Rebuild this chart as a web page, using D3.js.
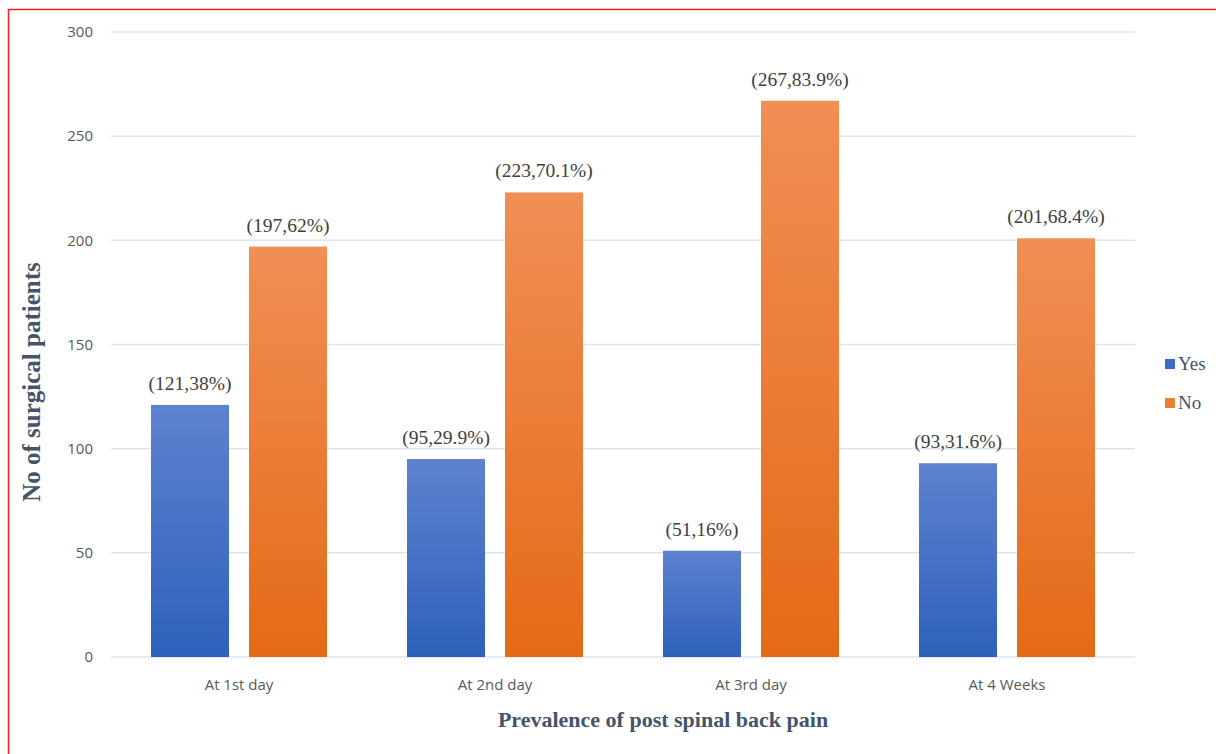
<!DOCTYPE html>
<html>
<head>
<meta charset="utf-8">
<script src="https://cdn.jsdelivr.net/npm/d3@7/dist/d3.min.js"></script>
<style>
    body { margin: 0; background: #fff; }
    svg { display: block; }
</style>
</head>
<body>
<svg id="chart" width="1216" height="754"></svg>
<script>
const categories = ["At 1st day", "At 2nd day", "At 3rd day", "At 4 Weeks"];
const series = ["Yes", "No"];
const yesValues = [121, 95, 51, 93];
const noValues = [197, 223, 267, 201];
const yesLabels = ["(121,38%)", "(95,29.9%)", "(51,16%)", "(93,31.6%)"];
const noLabels = ["(197,62%)", "(223,70.1%)", "(267,83.9%)", "(201,68.4%)"];
const yTicks = [0, 50, 100, 150, 200, 250, 300];

const margin = { left: 111, right: 1135, top: 32, bottom: 657 };
const svg = d3.select("#chart");

// gradients like the office fill
const defs = svg.append("defs");
const grads = [
    { id: "gYes", top: "#5d82cf", bottom: "#2e61bb" },
    { id: "gNo", top: "#f18f55", bottom: "#e46a17" }
];
grads.forEach(g => {
    const lg = defs.append("linearGradient")
        .attr("id", g.id)
        .attr("x1", 0).attr("y1", 0).attr("x2", 0).attr("y2", 1);
    lg.append("stop").attr("offset", "0%").attr("stop-color", g.top);
    lg.append("stop").attr("offset", "100%").attr("stop-color", g.bottom);
});

const x = d3.scaleBand()
    .domain(categories)
    .range([margin.left, margin.right])
    .paddingInner(0.3125)
    .paddingOuter(0.15625);

const x1 = d3.scaleBand()
    .domain(series)
    .range([0, x.bandwidth()])
    .paddingInner(0.2041);

const y = d3.scaleLinear()
    .domain([0, 300])
    .range([margin.bottom, margin.top]);

// grid
svg.append("g")
    .selectAll("line")
    .data(yTicks)
    .join("line")
    .attr("x1", margin.left)
    .attr("x2", margin.right)
    .attr("y1", d => y(d))
    .attr("y2", d => y(d))
    .attr("stroke", "#dfe3eb")
    .attr("stroke-width", 1.5);

// y axis tick labels
const yAxis = d3.axisLeft(y).tickValues(yTicks).tickSize(0).tickPadding(18);
const yg = svg.append("g")
    .attr("transform", `translate(${margin.left},0)`)
    .call(yAxis);
yg.select(".domain").remove();
yg.selectAll("text")
    .attr("font-family", "'Open Sans', 'Liberation Sans', sans-serif")
    .attr("font-size", 15)
    .attr("fill", "#595959");

// x axis labels
const xAxis = d3.axisBottom(x).tickSize(0).tickPadding(22);
const xg = svg.append("g")
    .attr("transform", `translate(0,${margin.bottom})`)
    .call(xAxis);
xg.select(".domain").remove();
xg.selectAll("text")
    .attr("font-family", "'Open Sans', 'Liberation Sans', sans-serif")
    .attr("font-size", 15)
    .attr("fill", "#595959");

const rows = categories.map((c, i) => ({
    cat: c,
    items: [
        { key: "Yes", value: yesValues[i], label: yesLabels[i], fill: "url(#gYes)" },
        { key: "No", value: noValues[i], label: noLabels[i], fill: "url(#gNo)" }
    ]
}));

const groups = svg.append("g")
    .selectAll("g")
    .data(rows)
    .join("g")
    .attr("transform", d => `translate(${x(d.cat)},0)`);

groups.selectAll("rect")
    .data(d => d.items)
    .join("rect")
    .attr("x", d => x1(d.key))
    .attr("width", x1.bandwidth())
    .attr("y", d => y(d.value))
    .attr("height", d => y(0) - y(d.value))
    .attr("fill", d => d.fill);

groups.selectAll("text")
    .data(d => d.items)
    .join("text")
    .attr("x", d => x1(d.key) + x1.bandwidth() / 2)
    .attr("y", d => y(d.value) - 15)
    .attr("text-anchor", "middle")
    .attr("font-family", "'Liberation Serif', 'Times New Roman', serif")
    .attr("font-size", 19.5)
    .attr("fill", "#404040")
    .text(d => d.label);

// axis titles
svg.append("text")
    .attr("x", 663)
    .attr("y", 727)
    .attr("text-anchor", "middle")
    .attr("font-family", "'Liberation Serif', 'Times New Roman', serif")
    .attr("font-weight", "bold")
    .attr("font-size", 22)
    .attr("fill", "#44546a")
    .text("Prevalence of post spinal back pain");

svg.append("text")
    .attr("transform", "translate(40,382) rotate(-90)")
    .attr("text-anchor", "middle")
    .attr("font-family", "'Liberation Serif', 'Times New Roman', serif")
    .attr("font-weight", "bold")
    .attr("font-size", 25)
    .attr("fill", "#44546a")
    .text("No of surgical patients");

// legend
const legendColors = ["#3a6cc6", "#ef7d30"];
const legend = svg.append("g")
    .selectAll("g")
    .data(series)
    .join("g")
    .attr("transform", (d, i) => `translate(1165,${359 + i * 39})`);
legend.append("rect")
    .attr("width", 10)
    .attr("height", 10)
    .attr("fill", (d, i) => legendColors[i]);
legend.append("text")
    .attr("x", 13)
    .attr("y", 11)
    .attr("font-family", "'Liberation Serif', 'Times New Roman', serif")
    .attr("font-size", 19)
    .attr("fill", "#44546a")
    .text(d => d);

// red frame
svg.append("rect")
    .attr("x", 8.5)
    .attr("y", 9.5)
    .attr("width", 1300)
    .attr("height", 900)
    .attr("fill", "none")
    .attr("stroke", "#ff1a1a")
    .attr("stroke-width", 1.5);
</script>
</body>
</html>
